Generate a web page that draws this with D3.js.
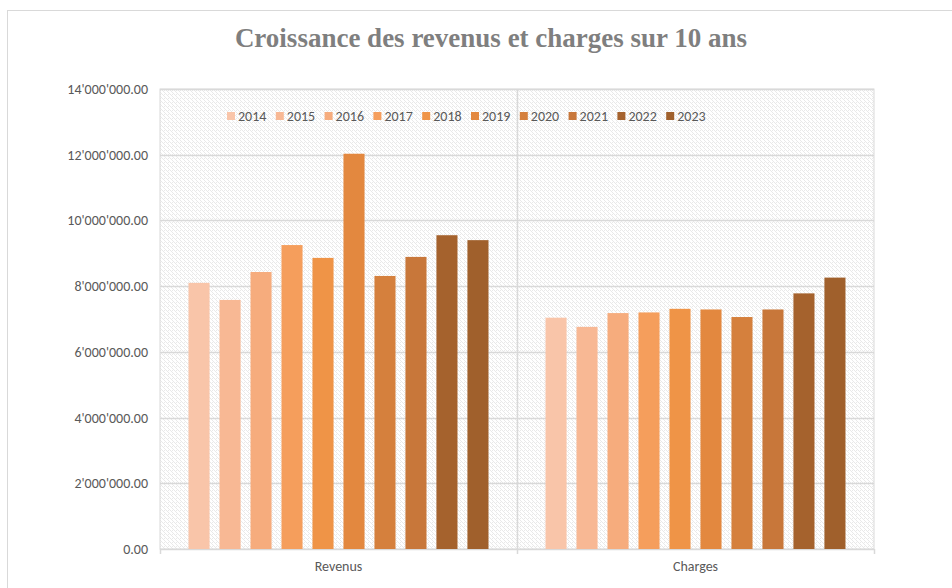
<!DOCTYPE html>
<html>
<head>
<meta charset="utf-8">
<script src="https://cdnjs.cloudflare.com/ajax/libs/d3/7.8.5/d3.min.js"></script>
<style>
body { margin: 0; background: #fff; }
</style>
</head>
<body>
<div class="chartfield"></div>
<script>
var categories = ["Revenus", "Charges"];
var years = ["2014", "2015", "2016", "2017", "2018", "2019", "2020", "2021", "2022", "2023"];
var revenus = [8100000, 7580000, 8430000, 9250000, 8860000, 12030000, 8310000, 8890000, 9550000, 9400000];
var charges = [7040000, 6760000, 7180000, 7200000, 7310000, 7290000, 7060000, 7290000, 7780000, 8260000];
var yTicks = [0, 2000000, 4000000, 6000000, 8000000, 10000000, 12000000, 14000000];
var colors = ["#F9C5A9", "#F8B894", "#F6AC7D", "#F59E5C", "#EF9447", "#E3883F", "#D5803D", "#C8773A", "#A5622D", "#A0602C"];

var width = 952;
var height = 588;
var plotL = 160, plotR = 874, plotT = 89, plotB = 549;
var font = "Carlito, Lato, 'Liberation Sans', sans-serif";

var svg = d3.select(".chartfield")
	.append("svg")
	.attr("width", width)
	.attr("height", height);

var defs = svg.append("defs");
var pat = defs.append("pattern")
	.attr("id", "hatch")
	.attr("patternUnits", "userSpaceOnUse")
	.attr("width", 4)
	.attr("height", 4);
pat.append("rect").attr("width", 4).attr("height", 4).attr("fill", "#ffffff");
pat.append("path")
	.attr("d", "M-1,1 L1,3 M0,0 L4,4 M3,-1 L5,1")
	.attr("stroke", "#e6e6e6")
	.attr("stroke-width", 0.9);

// chart border
svg.append("rect")
	.attr("x", 7.5).attr("y", 10.5)
	.attr("width", 980).attr("height", 620)
	.attr("fill", "none")
	.attr("stroke", "#d9d9d9");

// title
svg.append("text")
	.attr("x", 491).attr("y", 47)
	.attr("text-anchor", "middle")
	.style("font-family", "'Liberation Serif', 'DejaVu Serif', serif")
	.style("font-weight", "bold")
	.style("font-size", "27px")
	.style("fill", "#7f7f7f")
	.text("Croissance des revenus et charges sur 10 ans");

var y = d3.scaleLinear().domain([0, 14000000]).range([plotB, plotT]);
var x0 = d3.scaleBand().domain(categories).range([plotL, plotR]);
var x1 = d3.scaleBand().domain(years).range([0, x0.bandwidth()])
	.paddingInner(0.32).paddingOuter(0.92);

// plot background
svg.append("rect")
	.attr("x", plotL).attr("y", plotT)
	.attr("width", plotR - plotL).attr("height", plotB - plotT)
	.attr("fill", "url(#hatch)")
	.attr("stroke", "#d9d9d9");

// gridlines
svg.append("g")
	.selectAll("line")
	.data(yTicks)
	.enter().append("line")
	.attr("x1", plotL).attr("x2", plotR)
	.attr("y1", function(d) { return Math.round(y(d)) + 0.5; })
	.attr("y2", function(d) { return Math.round(y(d)) + 0.5; })
	.attr("stroke", "#d9d9d9")
	.attr("stroke-width", 1.5);

// vertical separators between categories
var seps = [plotL, x0("Charges"), plotR];
svg.append("g")
	.selectAll("line")
	.data(seps)
	.enter().append("line")
	.attr("x1", function(d) { return Math.round(d) + 0.5; })
	.attr("x2", function(d) { return Math.round(d) + 0.5; })
	.attr("y1", function(d, i) { return i == 1 ? plotT : plotB; })
	.attr("y2", plotB + 5)
	.attr("stroke", "#d9d9d9")
	.attr("stroke-width", 1.5);

// y axis labels
var fmt = function(d) {
	return d3.format(",.2f")(d).replace(/,/g, "'");
};
var yAxis = d3.axisLeft(y).tickValues(yTicks).tickFormat(fmt).tickSize(0).tickPadding(12);
var ya = svg.append("g").attr("transform", "translate(" + plotL + ",0)").call(yAxis);
ya.select(".domain").remove();
ya.selectAll("text")
	.style("font-family", font)
	.style("font-size", "14px")
	.style("fill", "#595959");

// bars
var series = [revenus, charges];
var groups = svg.append("g")
	.selectAll("g")
	.data(categories)
	.enter().append("g")
	.attr("transform", function(d) { return "translate(" + x0(d) + ",0)"; });

groups.selectAll("rect")
	.data(function(d, i) {
		return years.map(function(yr, j) { return { year: yr, value: series[i][j], idx: j }; });
	})
	.enter().append("rect")
	.attr("x", function(d) { return x1(d.year); })
	.attr("width", x1.bandwidth())
	.attr("y", function(d) { return y(d.value); })
	.attr("height", function(d) { return y(0) - y(d.value); })
	.attr("fill", function(d) { return colors[d.idx]; });

// x axis labels
var xAxis = d3.axisBottom(x0).tickSize(0).tickPadding(12);
var xa = svg.append("g").attr("transform", "translate(0," + plotB + ")").call(xAxis);
xa.select(".domain").remove();
xa.selectAll("text")
	.style("font-family", font)
	.style("font-size", "14px")
	.style("fill", "#595959");

// legend
var legend = svg.append("g")
	.selectAll("g")
	.data(years)
	.enter().append("g")
	.attr("transform", function(d, i) { return "translate(" + (227 + i * 48.8) + ",116)"; });
legend.append("rect")
	.attr("x", 0).attr("y", -4)
	.attr("width", 8).attr("height", 8)
	.attr("fill", function(d, i) { return colors[i]; });
legend.append("text")
	.attr("x", 11).attr("y", 0)
	.attr("dy", "0.35em")
	.style("font-family", font)
	.style("font-size", "14px")
	.style("fill", "#595959")
	.text(function(d) { return d; });
</script>
</body>
</html>
